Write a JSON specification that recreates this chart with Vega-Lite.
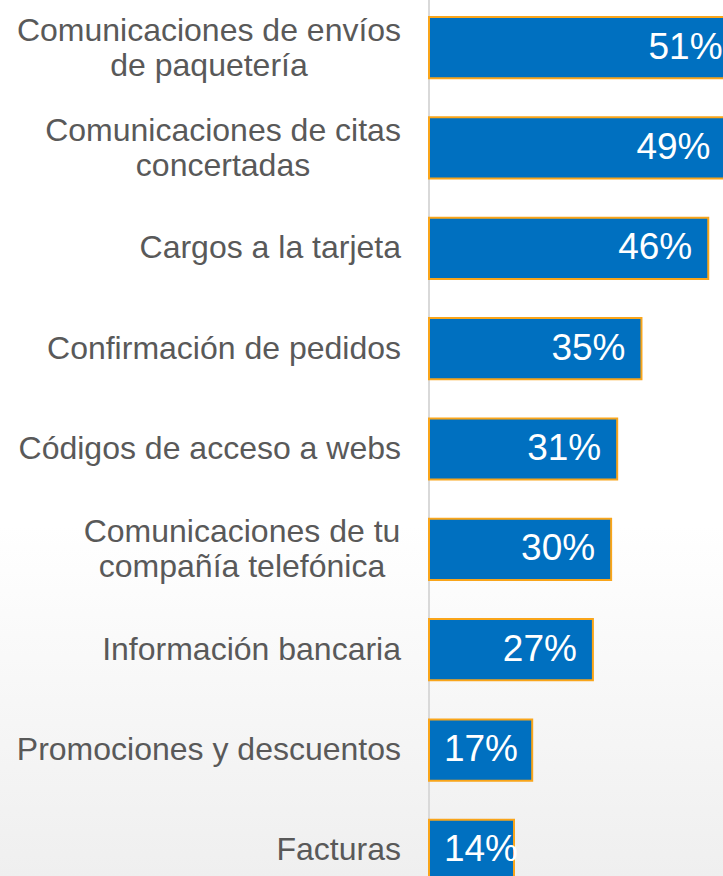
{
  "$schema": "https://vega.github.io/schema/vega-lite/v6.json",
  "width": 723,
  "height": 876,
  "autosize": {"type": "none"},
  "padding": 0,
  "background": "#ffffff",
  "config": {
    "font": "Liberation Sans",
    "view": {
      "stroke": null,
      "fill": {
        "gradient": "linear",
        "x1": 0, "y1": 0, "x2": 0, "y2": 1,
        "stops": [
          {"offset": 0, "color": "#ffffff"},
          {"offset": 0.6, "color": "#ffffff"},
          {"offset": 1, "color": "#efefef"}
        ]
      }
    }
  },
  "data": {
    "values": [
      {"categoria": "Comunicaciones de envíos\nde paquetería", "valor": 51},
      {"categoria": "Comunicaciones de citas\nconcertadas", "valor": 49},
      {"categoria": "Cargos a la tarjeta", "valor": 46},
      {"categoria": "Confirmación de pedidos", "valor": 35},
      {"categoria": "Códigos de acceso a webs", "valor": 31},
      {"categoria": "Comunicaciones de tu\ncompañía telefónica", "valor": 30},
      {"categoria": "Información bancaria", "valor": 27},
      {"categoria": "Promociones y descuentos", "valor": 17},
      {"categoria": "Facturas", "valor": 14}
    ]
  },
  "layer": [
    {
      "mark": {"type": "rule", "color": "#d9d9d9", "strokeWidth": 2},
      "encoding": {
        "x": {"datum": 0, "type": "quantitative", "scale": {"domain": [0, 48.43], "range": [429, 723], "nice": false}, "axis": null}
      }
    },
    {
      "mark": {"type": "bar", "color": "#0070C0", "stroke": "#F9A51A", "strokeWidth": 2},
      "encoding": {
        "y": {"field": "categoria", "type": "nominal", "sort": null, "scale": {"range": [17, 881], "paddingInner": 0.39, "paddingOuter": 0}, "axis": null},
        "x": {"field": "valor", "type": "quantitative", "axis": null}
      }
    },
    {
      "transform": [
        {"calculate": "max(datum.valor, 17.3)", "as": "posEtiqueta"},
        {"calculate": "datum.valor + '%'", "as": "texto"}
      ],
      "mark": {"type": "text", "align": "right", "baseline": "middle", "dx": -16, "fontSize": 37, "color": "#ffffff"},
      "encoding": {
        "y": {"field": "categoria", "type": "nominal", "sort": null, "axis": null},
        "x": {"field": "posEtiqueta", "type": "quantitative", "axis": null},
        "text": {"field": "texto"}
      }
    },
    {
      "transform": [{"filter": "indexof(datum.categoria, '\\n') < 0"}],
      "mark": {"type": "text", "align": "right", "baseline": "middle", "dx": -28, "fontSize": 32, "color": "#595959"},
      "encoding": {
        "y": {"field": "categoria", "type": "nominal", "sort": null, "axis": null},
        "x": {"datum": 0, "type": "quantitative"},
        "text": {"field": "categoria"}
      }
    },
    {
      "transform": [{"filter": "datum.valor == 51"}],
      "mark": {"type": "text", "align": "center", "baseline": "middle", "dx": -220, "dy": -17, "fontSize": 32, "lineHeight": 35, "lineBreak": "\n", "color": "#595959"},
      "encoding": {
        "y": {"field": "categoria", "type": "nominal", "sort": null, "axis": null},
        "x": {"datum": 0, "type": "quantitative"},
        "text": {"field": "categoria"}
      }
    },
    {
      "transform": [{"filter": "datum.valor == 49"}],
      "mark": {"type": "text", "align": "center", "baseline": "middle", "dx": -206, "dy": -17, "fontSize": 32, "lineHeight": 35, "lineBreak": "\n", "color": "#595959"},
      "encoding": {
        "y": {"field": "categoria", "type": "nominal", "sort": null, "axis": null},
        "x": {"datum": 0, "type": "quantitative"},
        "text": {"field": "categoria"}
      }
    },
    {
      "transform": [{"filter": "datum.valor == 30"}],
      "mark": {"type": "text", "align": "center", "baseline": "middle", "dx": -187, "dy": -17, "fontSize": 32, "lineHeight": 35, "lineBreak": "\n", "color": "#595959"},
      "encoding": {
        "y": {"field": "categoria", "type": "nominal", "sort": null, "axis": null},
        "x": {"datum": 0, "type": "quantitative"},
        "text": {"field": "categoria"}
      }
    }
  ]
}
